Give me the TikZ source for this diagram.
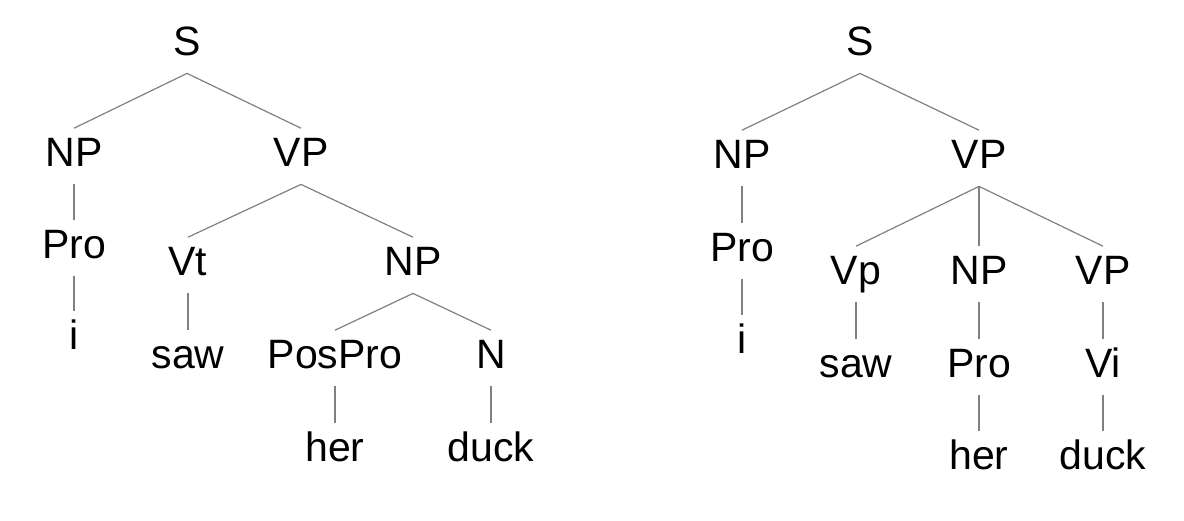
\documentclass[tikz,border=0pt]{standalone}
\usepackage{fontspec}
\setsansfont{Liberation Sans}
\usepackage{tikz}

\begin{document}
\begin{tikzpicture}[x=0.5pt, y=-0.5pt,
      cat/.style={anchor=base, inner xsep=2pt, inner ysep=4pt,
                  text height=14.7pt, text depth=5pt,
                  font=\sffamily\fontsize{20.5}{24}\selectfont},
      br/.style={draw=gray, line width=0.6pt}
  ]
    \useasboundingbox (0,0) rectangle (1184,520);

    % left tree: VP -> Vt NP
    \node[cat] (lS) at (187,55) {S};
    \node[cat] (lNP) at (74,166) {NP};
    \node[cat] (lVP) at (301,166) {VP};
    \node[cat] (lPro) at (74,258) {Pro};
    \node[cat] (lVt) at (188,275) {Vt};
    \node[cat] (lNPb) at (413,275) {NP};
    \node[cat] (li) at (74,349) {i};
    \node[cat] (lsaw) at (188,368) {saw};
    \node[cat] (lPosPro) at (335,368) {PosPro};
    \node[cat] (lN) at (491,368) {N};
    \node[cat] (lher) at (335,461) {her};
    \node[cat] (lduck) at (491,461) {duck};
    \draw[br] (lS.south)--(lNP.north);
    \draw[br] (lS.south)--(lVP.north);
    \draw[br] (lNP.south)--(lPro.north);
    \draw[br] (lPro.south)--(li.north);
    \draw[br] (lVP.south)--(lVt.north);
    \draw[br] (lVP.south)--(lNPb.north);
    \draw[br] (lVt.south)--(lsaw.north);
    \draw[br] (lNPb.south)--(lPosPro.north);
    \draw[br] (lNPb.south)--(lN.north);
    \draw[br] (lPosPro.south)--(lher.north);
    \draw[br] (lN.south)--(lduck.north);

    % right tree: VP -> Vp NP VP
    \node[cat] (rS) at (860,55) {S};
    \node[cat] (rNP) at (742,168) {NP};
    \node[cat] (rVP) at (979,168) {VP};
    \node[cat] (rPro) at (742,261) {Pro};
    \node[cat] (rVp) at (856,284) {Vp};
    \node[cat] (rNPb) at (979,284) {NP};
    \node[cat] (rVPb) at (1103,284) {VP};
    \node[cat] (ri) at (742,353) {i};
    \node[cat] (rsaw) at (856,377) {saw};
    \node[cat] (rProb) at (979,377) {Pro};
    \node[cat] (rVi) at (1103,377) {Vi};
    \node[cat] (rher) at (979,469) {her};
    \node[cat] (rduck) at (1103,469) {duck};
    \draw[br] (rS.south)--(rNP.north);
    \draw[br] (rS.south)--(rVP.north);
    \draw[br] (rNP.south)--(rPro.north);
    \draw[br] (rPro.south)--(ri.north);
    \draw[br] (rVP.south)--(rVp.north);
    \draw[br] (rVP.south)--(rNPb.north);
    \draw[br] (rVP.south)--(rVPb.north);
    \draw[br] (rVp.south)--(rsaw.north);
    \draw[br] (rNPb.south)--(rProb.north);
    \draw[br] (rVPb.south)--(rVi.north);
    \draw[br] (rProb.south)--(rher.north);
    \draw[br] (rVi.south)--(rduck.north);
  \end{tikzpicture}
\end{document}
